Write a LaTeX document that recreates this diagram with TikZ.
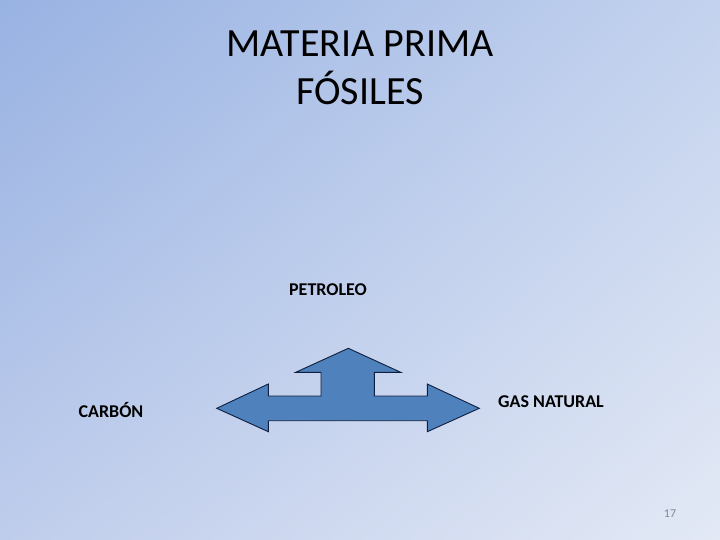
\documentclass[tikz,border=0pt]{standalone}
\usepackage{fontspec}
\setmainfont{Carlito}
\usetikzlibrary{shadings}
\definecolor{bgTL}{HTML}{98B2E2}
\definecolor{bgTR}{HTML}{C3D2EE}
\definecolor{bgBL}{HTML}{BFCDEC}
\definecolor{bgBR}{HTML}{E3E9F5}
\definecolor{arrowfill}{HTML}{4F81BD}
\definecolor{arrowline}{HTML}{0F1E3C}
\definecolor{numgray}{HTML}{7F8694}
\tikzset{
  lbl/.style={font=\fontsize{18}{22}\selectfont\bfseries, text=black, inner sep=0pt},
  bigarrow/.style={fill=arrowfill, draw=arrowline, line width=0.9pt, line join=miter}
}
\begin{document}
\begin{tikzpicture}[x=1pt,y=-1pt]
\useasboundingbox (0,0) rectangle (720,540);
\shade[upper left=bgTL, upper right=bgTR, lower left=bgBL, lower right=bgBR] (0,0) rectangle (720,540);
\node[font=\fontsize{40}{48}\selectfont, align=center, text=black, inner sep=0pt] (title) at (360,68) {MATERIA PRIMA\\FÓSILES};
\node[lbl] (petroleo) at (328,290) {PETROLEO};
\node[lbl] (carbon) at (111,410) {CARBÓN};
\node[lbl] (gas) at (551,402) {GAS NATURAL};
\node[font=\fontsize{12}{14}\selectfont, text=numgray, inner sep=0pt] (num) at (670,514) {17};
\draw[bigarrow] (216.7,408.3) -- (268.3,384) -- (268.3,396) -- (321,396) -- (321,372.3) -- (295.7,372.3)
  -- (348.3,348.3) -- (400.7,372.3) -- (374.3,372.3) -- (374.3,396) -- (427.3,396) -- (427.3,384)
  -- (479.3,408.3) -- (427.3,431.7) -- (427.3,420.7) -- (268.3,420.7) -- (268.3,431.7) -- cycle;
\end{tikzpicture}
\end{document}
